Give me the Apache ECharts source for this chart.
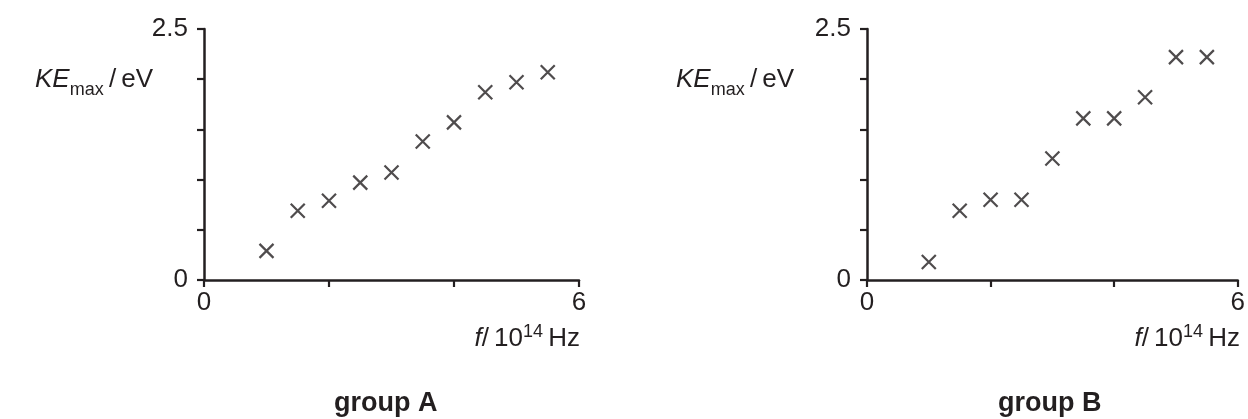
<!DOCTYPE html>
<html><head><meta charset="utf-8">
<script src="https://cdn.jsdelivr.net/npm/echarts@6/dist/echarts.min.js"></script>
<style>html,body{margin:0;padding:0;background:#fff}#c{width:1248px;height:419px}</style>
</head><body><div id="c"></div>
<script>
const freqA = [1.0, 1.5, 2.0, 2.5, 3.0, 3.5, 4.0, 4.5, 5.0, 5.5];
const keA   = [0.29, 0.69, 0.79, 0.97, 1.07, 1.38, 1.57, 1.87, 1.97, 2.07];
const freqB = [1.0, 1.5, 2.0, 2.5, 3.0, 3.5, 4.0, 4.5, 5.0, 5.5];
const keB   = [0.18, 0.69, 0.80, 0.80, 1.21, 1.61, 1.61, 1.82, 2.22, 2.22];
const xTickLabels = {0: '0', 6: '6'};
const yTickLabels = {0: '0', 2.5: '2.5'};
const groupNames = ['group A', 'group B'];

const INK = '#231f20';
const FONT = '"Liberation Sans", Arial, Helvetica, sans-serif';
const chart = echarts.init(document.getElementById('c'), null, {renderer: 'canvas'});

function xAxis(i) {
  return {
    type: 'value', gridIndex: i, min: 0, max: 6, interval: 2,
    axisLine: {show: true, onZero: false, lineStyle: {color: INK, width: 2.5}},
    axisTick: {show: true, length: 7, lineStyle: {color: INK, width: 2.2}},
    splitLine: {show: false},
    axisLabel: {show: true, margin: 10, color: INK, fontSize: 26, fontFamily: FONT,
      formatter: v => xTickLabels[v] !== undefined ? xTickLabels[v] : ''}
  };
}
function yAxis(i) {
  return {
    type: 'value', gridIndex: i, min: 0, max: 2.5, interval: 0.5,
    axisLine: {show: true, onZero: false, lineStyle: {color: INK, width: 2.5}},
    axisTick: {show: true, length: 7, lineStyle: {color: INK, width: 2.2}},
    splitLine: {show: false},
    axisLabel: {show: true, margin: 16, color: INK, fontSize: 26, fontFamily: FONT,
      formatter: v => yTickLabels[v] !== undefined ? yTickLabels[v] : ''}
  };
}
const cross = 'path://M0 0L10 10M10 0L0 10';
function series(i, xs, ys) {
  return {
    type: 'scatter', xAxisIndex: i, yAxisIndex: i,
    data: xs.map((x, k) => [x, ys[k]]),
    symbol: cross, symbolSize: 14,
    itemStyle: {color: 'rgba(0,0,0,0)', borderColor: INK, borderWidth: 2.2},
    emphasis: {disabled: true}, silent: true, animation: false
  };
}
const rich = {
  i: {fontStyle: 'italic', fontWeight: 'normal', fontSize: 26, fontFamily: FONT, color: INK},
  n: {fontWeight: 'normal', fontSize: 26, fontFamily: FONT, color: INK},
  sub: {fontWeight: 'normal', fontSize: 18, fontFamily: FONT, color: INK, padding: [20, 0, 0, 0]},
  sup: {fontWeight: 'normal', fontSize: 18, fontFamily: FONT, color: INK, padding: [0, 0, 14, 0]}
};
const yName = '{i|KE}{sub|max}{n|\u2009/\u2009eV}';
const xName = '{i|f}{n|/\u200910}{sup|14}{n|\u2009Hz}';
const nameStyle = {fontWeight: 'normal', rich: rich};
const groupStyle = {fontSize: 27, fontWeight: 'bold', fontFamily: FONT, color: INK};

chart.setOption({
  animation: false,
  grid: [
    {left: 204, right: 669, top: 29, bottom: 139},
    {left: 867, right: 6, top: 29, bottom: 139}
  ],
  xAxis: [xAxis(0), xAxis(1)],
  yAxis: [yAxis(0), yAxis(1)],
  series: [series(0, freqA, keA), series(1, freqB, keB)],
  title: [
    {text: yName, left: 30, top: 56, textStyle: nameStyle},
    {text: yName, left: 671, top: 56, textStyle: nameStyle},
    {text: xName, right: 663, top: 318, textStyle: nameStyle},
    {text: xName, right: 3, top: 318, textStyle: nameStyle},
    {text: groupNames[0], left: 329, top: 385, textStyle: groupStyle},
    {text: groupNames[1], left: 993, top: 385, textStyle: groupStyle}
  ]
});
</script></body></html>
